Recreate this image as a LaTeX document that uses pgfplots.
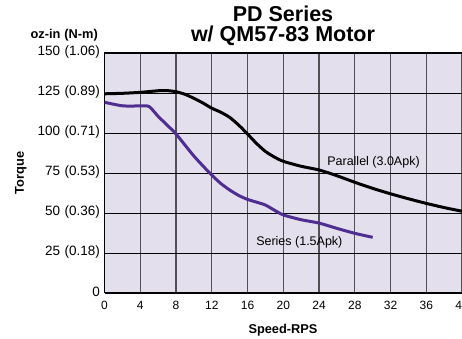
\documentclass[border=0pt]{standalone}
\usepackage{pgfplots}
\pgfplotsset{compat=1.18}
\usepackage{fontspec}
\setmainfont{Liberation Sans}
\definecolor{bgc}{RGB}{227,223,237}
\definecolor{ser}{RGB}{80,46,145}
\definecolor{vgrid}{RGB}{80,80,85}
\begin{document}
\begin{tikzpicture}[x=1pt,y=1pt]
\path[use as bounding box] (0,0) rectangle (462,339);
\begin{axis}[
  at={(104.5pt,46pt)}, anchor=south west,
  scale only axis, width=357.5pt, height=240pt,
  xmin=0, xmax=40, ymin=0, ymax=150,
  xtick={0,4,...,40}, ytick={0,25,...,150},
  yticklabels={0,25\hspace{4.5pt}(0.18),50\hspace{4.5pt}(0.36),75\hspace{4.5pt}(0.53),100\hspace{4.5pt}(0.71),125\hspace{4.5pt}(0.89),150\hspace{4.5pt}(1.06)},
  axis background/.style={fill=bgc},
  axis line style={black, line width=1pt},
  xmajorgrids, ymajorgrids,
  x grid style={vgrid, line width=1.1pt},
  y grid style={black, line width=0.9pt},
  major tick length=0pt,
  xticklabel style={font=\fontsize{12}{14}\selectfont, yshift=-5pt},
  yticklabel style={font=\fontsize{13.5}{15}\selectfont, xshift=-1pt, yshift=1pt},
  /pgf/number format/assume math mode=true,
]
\addplot[black, line width=3pt, smooth, tension=0.4] coordinates {
(0,124.5) (2,124.8) (4,125.4) (6,126.4) (7,126.5) (8,125.8) (9,124.2) (10,121.7)
(11,118.8) (12,115.5) (13,113) (14,109.8) (15,105) (16,99.4) (17,93.5) (18,88.5)
(19,85) (20,82.3) (22,79.2) (24,76.9) (26,73.3) (28,69.2) (30,65.4) (32,62)
(34,58.9) (36,56) (38,53.4) (40,51.1)};
\addplot[ser, line width=3pt, smooth, tension=0.4] coordinates {
(0,119.2) (1,118) (2,117) (3,116.8) (4,117) (5,116.5) (6,110.4) (7,105) (8,99.4)
(9,92.5) (10,85.6) (11,79.5) (12,73.7) (13,68.5) (14,64.4) (15,61) (16,58.5)
(17,56.8) (18,55) (19,51.8) (20,48.8) (22,45.8) (24,43.7) (26,40.4) (28,37.3) (30,34.8)};
\node[font=\fontsize{12.5}{14}\selectfont, inner sep=0pt] at (axis cs:30.1,81.7) {Parallel (3.0Apk)};
\node[font=\fontsize{12.5}{14}\selectfont, inner sep=0pt] at (axis cs:21.8,32) {Series (1.5Apk)};
\end{axis}
\node[font=\bfseries\fontsize{21.5}{20}\selectfont, anchor=base, inner sep=0pt] at (283,317.3) {PD Series};
\node[font=\bfseries\fontsize{21.5}{20}\selectfont, anchor=base, inner sep=0pt] at (283,297.3) {w/ QM57-83 Motor};
\node[font=\bfseries\fontsize{12.8}{14}\selectfont, anchor=base east, inner sep=0pt] at (98,300) {oz-in\hspace{4pt}(N-m)};
\node[font=\bfseries\fontsize{12.8}{14}\selectfont, rotate=90, inner sep=0pt] at (20.7,166) {Torque};
\node[font=\bfseries\fontsize{12.8}{14}\selectfont, inner sep=0pt] at (283,9) {Speed-RPS};
\end{tikzpicture}
\end{document}
